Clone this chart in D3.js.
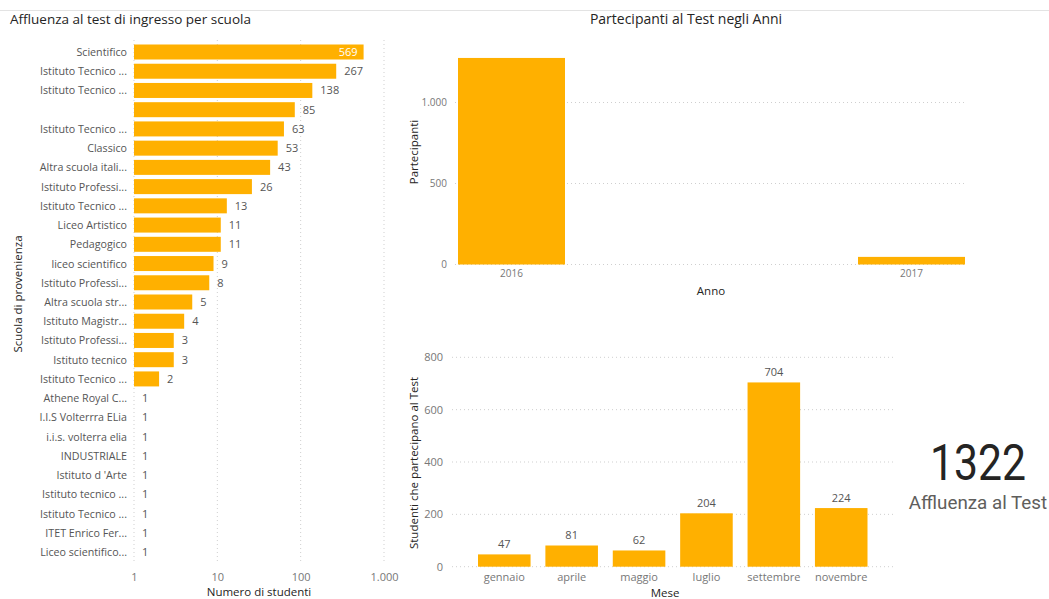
<!DOCTYPE html>
<html><head><meta charset="utf-8">
<script src="https://cdn.jsdelivr.net/npm/d3@7"></script>
<style>
body{margin:0;background:#fff;}
svg{display:block;font-family:"Open Sans","Noto Sans",sans-serif;}
</style></head>
<body><svg id="c" width="1049" height="599"></svg>
<script>
const schools = ["Scientifico","Istituto Tecnico ...","Istituto Tecnico ...","","Istituto Tecnico ...","Classico","Altra scuola itali...","Istituto Professi...","Istituto Tecnico ...","Liceo Artistico","Pedagogico","liceo scientifico","Istituto Professi...","Altra scuola str...","Istituto Magistr...","Istituto Professi...","Istituto tecnico","Istituto Tecnico ...","Athene Royal C...","I.I.S Volterrra ELia","i.i.s. volterra elia","INDUSTRIALE","Istituto d 'Arte","Istituto tecnico ...","Istituto Tecnico ...","ITET Enrico Fer...","Liceo scientifico..."];
const schoolValues = [569,267,138,85,63,53,43,26,13,11,11,9,8,5,4,3,3,2,1,1,1,1,1,1,1,1,1];
const logTicks = [1,10,100,1000];
const years = ["2016","2017"];
const yearValues = [1275,47];
const yearTicks = [0,500,1000];
const months = ["gennaio","aprile","maggio","luglio","settembre","novembre"];
const monthValues = [47,81,62,204,704,224];
const monthTicks = [0,200,400,600,800];
const kpiValue = 1322;
const kpiLabel = "Affluenza al Test";

const BAR = "#FFB000", TICK = "#777", TITLE = "#252423", GRID = "#cfcfcf";
const fmt = d3.formatLocale({decimal:",",thousands:".",grouping:[3],currency:["€",""]}).format(",d");
const svg = d3.select("#c");

svg.append("line").attr("x1",0).attr("x2",1049).attr("y1",10.5).attr("y2",10.5).attr("stroke","#e3e3e3");

// ---------- Left chart ----------
const g1 = svg.append("g");
g1.append("text").attr("x",10).attr("y",24).attr("font-size",13.5).attr("fill",TITLE)
  .text("Affluenza al test di ingresso per scuola");
const x1 = d3.scaleLog().domain([1,1000]).range([134,384]);
const y1 = d3.scaleBand().domain(d3.range(schools.length)).range([44.5,559.5]).paddingInner(0.22).paddingOuter(0);
g1.selectAll(".g1").data(logTicks).join("line").attr("x1",d=>x1(d)).attr("x2",d=>x1(d)).attr("y1",40).attr("y2",563)
  .attr("stroke",GRID).attr("stroke-dasharray","1,3");
g1.selectAll(".bar").data(schoolValues).join("rect").attr("x",x1(1)).attr("y",(d,i)=>y1(i))
  .attr("width",d=>x1(d)-x1(1)).attr("height",y1.bandwidth()).attr("fill",BAR);
g1.selectAll(".lab").data(schools).join("text").attr("x",127).attr("y",(d,i)=>y1(i)+y1.bandwidth()/2+4)
  .attr("text-anchor","end").attr("font-size",10.7).attr("fill","#555").text(d=>d);
g1.selectAll(".val").data(schoolValues).join("text")
  .attr("x",(d,i)=> i===0 ? x1(d)-6 : x1(d)+8)
  .attr("text-anchor",(d,i)=> i===0 ? "end":"start")
  .attr("y",(d,i)=>y1(i)+y1.bandwidth()/2+4)
  .attr("font-size",11).attr("fill",(d,i)=> i===0 ? "#fff":"#555").text(d=>d);
const ax1 = d3.axisBottom(x1).tickValues(logTicks).tickFormat(fmt).tickSize(0).tickPadding(0);
const ga1 = g1.append("g").attr("transform","translate(0,573)").call(ax1);
ga1.select(".domain").remove();
ga1.selectAll("text").attr("font-size",11).attr("fill",TICK).attr("font-family","Open Sans");
g1.append("text").attr("x",259).attr("y",596).attr("text-anchor","middle").attr("font-size",11.5).attr("fill",TITLE).text("Numero di studenti");
g1.append("text").attr("transform","translate(22,294) rotate(-90)").attr("text-anchor","middle").attr("font-size",11.5).attr("fill",TITLE).text("Scuola di provenienza");

// ---------- Top-right chart ----------
const g2 = svg.append("g");
g2.append("text").attr("x",686).attr("y",24).attr("text-anchor","middle").attr("font-size",14).attr("fill",TITLE).text("Partecipanti al Test negli Anni");
const x2 = d3.scaleBand().domain(years).range([458,965]).paddingInner(0.7325).paddingOuter(0);
const y2 = d3.scaleLinear().domain([0,1000]).range([264.5,102.5]);
g2.selectAll(".gr").data(yearTicks).join("line").attr("x1",455).attr("x2",965).attr("y1",d=>y2(d)).attr("y2",d=>y2(d))
  .attr("stroke",GRID).attr("stroke-dasharray","1,3");
g2.selectAll(".bar").data(yearValues).join("rect").attr("x",(d,i)=>x2(years[i])).attr("y",d=>y2(d))
  .attr("width",x2.bandwidth()).attr("height",d=>y2(0)-y2(d)).attr("fill",BAR);
const ay2 = g2.append("g").attr("transform","translate(447,0)").call(d3.axisLeft(y2).tickValues(yearTicks).tickFormat(fmt).tickSize(0).tickPadding(0));
ay2.select(".domain").remove();
ay2.selectAll("text").attr("font-size",10).attr("fill",TICK).attr("font-family","Open Sans");
const ax2 = g2.append("g").attr("transform","translate(0,270)").call(d3.axisBottom(x2).tickSize(0).tickPadding(0));
ax2.select(".domain").remove();
ax2.selectAll("text").attr("font-size",10).attr("fill",TICK).attr("font-family","Open Sans");
g2.append("text").attr("x",711).attr("y",295).attr("text-anchor","middle").attr("font-size",11.5).attr("fill",TITLE).text("Anno");
g2.append("text").attr("transform","translate(418,152) rotate(-90)").attr("text-anchor","middle").attr("font-size",11.5).attr("fill",TITLE).text("Partecipanti");

// ---------- Bottom-right chart ----------
const g3 = svg.append("g");
const x3 = d3.scaleBand().domain(months).range([478,867.5]).paddingInner(0.22).paddingOuter(0);
const y3 = d3.scaleLinear().domain([0,800]).range([566.7,357.3]);
g3.selectAll(".gr").data(monthTicks).join("line").attr("x1",452).attr("x2",893).attr("y1",d=>y3(d)).attr("y2",d=>y3(d))
  .attr("stroke",GRID).attr("stroke-dasharray","1,3");
g3.selectAll(".bar").data(monthValues).join("rect").attr("x",(d,i)=>x3(months[i])).attr("y",d=>y3(d))
  .attr("width",x3.bandwidth()).attr("height",d=>y3(0)-y3(d)).attr("fill",BAR);
g3.selectAll(".val").data(monthValues).join("text").attr("x",(d,i)=>x3(months[i])+x3.bandwidth()/2).attr("y",d=>y3(d)-6)
  .attr("text-anchor","middle").attr("font-size",11).attr("fill","#555").text(d=>d);
const ay3 = g3.append("g").attr("transform","translate(443,0)").call(d3.axisLeft(y3).tickValues(monthTicks).tickFormat(fmt).tickSize(0).tickPadding(0));
ay3.select(".domain").remove();
ay3.selectAll("text").attr("font-size",11).attr("fill",TICK).attr("font-family","Open Sans");
const ax3 = g3.append("g").attr("transform","translate(0,573)").call(d3.axisBottom(x3).tickSize(0).tickPadding(0));
ax3.select(".domain").remove();
ax3.selectAll("text").attr("font-size",11).attr("fill",TICK).attr("font-family","Open Sans");
g3.append("text").attr("x",665).attr("y",597).attr("text-anchor","middle").attr("font-size",11.5).attr("fill",TITLE).text("Mese");
g3.append("text").attr("transform","translate(418,463) rotate(-90)").attr("text-anchor","middle").attr("font-size",11.5).attr("fill",TITLE).text("Studenti che partecipano al Test");

// ---------- KPI ----------
svg.append("text").attr("x",978).attr("y",480).attr("text-anchor","middle").attr("font-family","Roboto")
  .attr("font-size",50).attr("fill","#252423").attr("textLength",96).attr("lengthAdjust","spacingAndGlyphs").text(kpiValue);
svg.append("text").attr("x",978).attr("y",509).attr("text-anchor","middle").attr("font-family","Roboto")
  .attr("font-size",18.8).attr("fill","#605E5C").text(kpiLabel);
</script></body></html>
